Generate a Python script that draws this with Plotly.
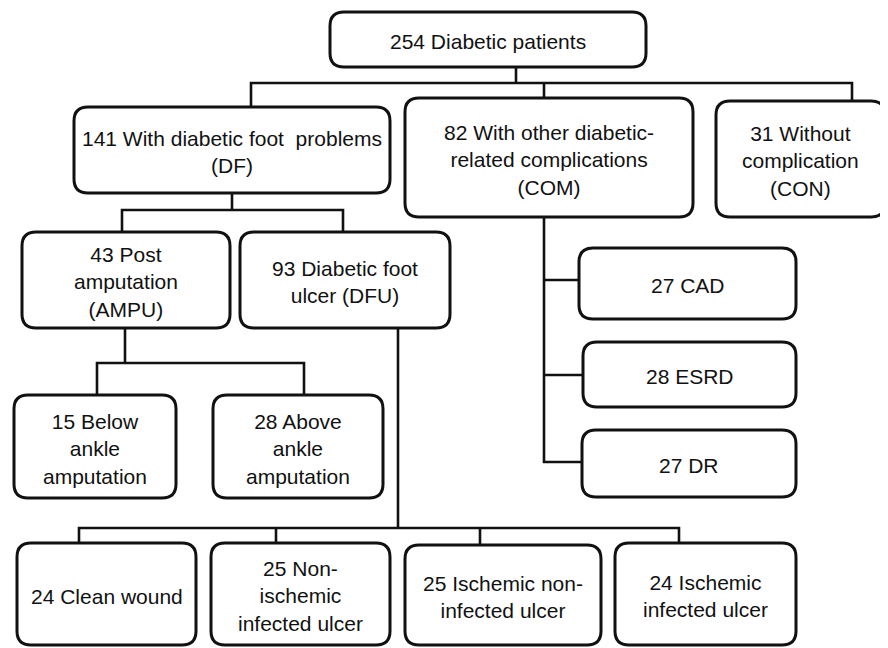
import plotly.graph_objects as go

# ---- data ----
counts = [254, 141, 82, 31, 43, 93, 15, 28, 27, 28, 27, 24, 25, 25, 24]
descriptions = [
    "Diabetic patients",
    "With diabetic foot  problems<br>(DF)",
    "With other diabetic-<br>related complications<br>(COM)",
    "Without<br>complication<br>(CON)",
    "Post<br>amputation<br>(AMPU)",
    "Diabetic foot<br>ulcer (DFU)",
    "Below<br>ankle<br>amputation",
    "Above<br>ankle<br>amputation",
    "CAD",
    "ESRD",
    "DR",
    "Clean wound",
    "Non-<br>ischemic<br>infected ulcer",
    "Ischemic non-<br>infected ulcer",
    "Ischemic<br>infected ulcer",
]

# ---- layout (box geometry in pixels: x0, y0, x1, y1) ----
boxes = [
    (330, 12, 646, 67),
    (74, 107, 390, 193),
    (405, 98, 693, 217),
    (716, 101, 885, 217),
    (22, 232, 230, 328),
    (240, 232, 450, 328),
    (14, 395, 176, 498),
    (213, 395, 383, 498),
    (579, 248, 796, 319),
    (583, 342, 796, 407),
    (582, 430, 796, 497),
    (17, 543, 196, 645),
    (211, 543, 390, 645),
    (405, 545, 601, 645),
    (615, 543, 796, 645),
]

connectors = [
    [(516, 67), (516, 83)],
    [(251, 107), (251, 83), (852, 83), (852, 101)],
    [(544, 83), (544, 98)],
    [(232, 193), (232, 210)],
    [(122, 232), (122, 210), (343, 210), (343, 232)],
    [(125, 328), (125, 363)],
    [(97, 395), (97, 363), (304, 363), (304, 395)],
    [(398, 328), (398, 528)],
    [(79, 543), (79, 528), (679, 528), (679, 543)],
    [(276, 528), (276, 543)],
    [(480, 528), (480, 545)],
    [(544, 217), (544, 462), (582, 462)],
    [(544, 280), (579, 280)],
    [(544, 375), (583, 375)],
]

W, H = 888, 648
OFF = 8  # page body margin compensation
R = 14


def rounded_path(x0, y0, x1, y1, r):
    return (f"M {x0+r},{y0} L {x1-r},{y0} Q {x1},{y0} {x1},{y0+r} "
            f"L {x1},{y1-r} Q {x1},{y1} {x1-r},{y1} "
            f"L {x0+r},{y1} Q {x0},{y1} {x0},{y1-r} "
            f"L {x0},{y0+r} Q {x0},{y0} {x0+r},{y0} Z")


fig = go.Figure()
shapes = []
for pts in connectors:
    d = "M " + " L ".join(f"{x},{y}" for x, y in pts)
    shapes.append(dict(type="path", path=d, xref="x", yref="y",
                       line=dict(color="#111111", width=2.6), layer="above"))
for (x0, y0, x1, y1) in boxes:
    shapes.append(dict(type="path", path=rounded_path(x0, y0, x1, y1, R),
                       xref="x", yref="y", fillcolor="white",
                       line=dict(color="#111111", width=3), layer="above"))

annotations = []
for n, desc, (x0, y0, x1, y1) in zip(counts, descriptions, boxes):
    annotations.append(dict(
        x=(x0 + x1) / 2, y=(y0 + y1) / 2, xref="x", yref="y",
        text=f"{n} {desc}", showarrow=False, align="center",
        font=dict(family="Liberation Sans, Arial, sans-serif", size=21,
                  color="#111111"),
        xanchor="center", yanchor="middle", yshift=-2))

fig.update_layout(
    width=W - OFF, height=H - OFF,
    margin=dict(l=0, r=0, t=0, b=0),
    paper_bgcolor="white", plot_bgcolor="white",
    xaxis=dict(range=[OFF, W], visible=False, fixedrange=True),
    yaxis=dict(range=[H, OFF], visible=False, fixedrange=True),
    shapes=shapes, annotations=annotations, showlegend=False,
)

fig.write_html("out.html")
